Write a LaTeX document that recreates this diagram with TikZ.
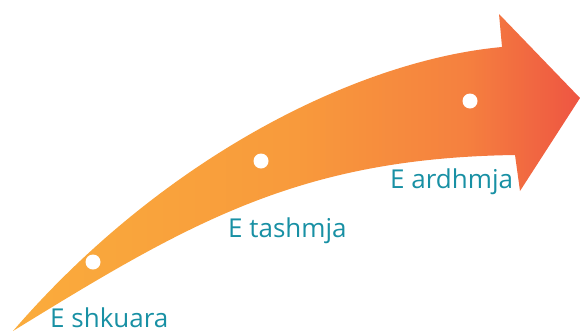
\documentclass[tikz,border=0pt]{standalone}
\usepackage{fontspec}
\setmainfont{Open Sans}
\usepackage{tikz}
\usetikzlibrary{positioning}
\definecolor{ArrowLight}{RGB}{250,172,60}
\definecolor{ArrowWarm}{RGB}{248,154,60}
\definecolor{ArrowMid}{RGB}{245,128,63}
\definecolor{ArrowDark}{RGB}{238,85,66}
\definecolor{LabelTeal}{RGB}{24,144,164}
\pgfdeclarehorizontalshading{arrowshade}{100bp}{color(0bp)=(ArrowLight); color(25bp)=(ArrowLight); color(50bp)=(ArrowWarm); color(65bp)=(ArrowMid); color(75bp)=(ArrowDark); color(100bp)=(ArrowDark)}
\tikzset{
  timearrow/.style={shading=arrowshade, draw=none},
  stagedot/.style={circle, fill=white, minimum size=15pt, inner sep=0pt},
  stagelabel/.style={anchor=base west, inner sep=0pt, text=LabelTeal,
    font=\fontsize{26}{30}\selectfont}
}

\begin{document}
\begin{tikzpicture}[x=1pt, y=-1pt]
  \useasboundingbox (0,0) rectangle (580,333);
  % Curved arrow: upper edge, head, lower edge back to the tail
  \shade[timearrow] (13,331)
    .. controls (165,155) and (360,60) .. (502,47)
    -- (499,14) -- (580,98) -- (520,191) -- (515,155)
    .. controls (300,158) and (190,222) .. (13,331) -- cycle;

  % Stages along the arrow
  \node[stagedot] (past) at (93,262) {};
  \node[stagedot] (present) at (261,161) {};
  \node[stagedot] (future) at (470,101) {};

  \node[stagelabel] (pastlabel) at (50,327) {E shkuara};
  \node[stagelabel] (presentlabel) at (228,237) {E tashmja};
  \node[stagelabel] (futurelabel) at (390,188) {E ardhmja};
\end{tikzpicture}
\end{document}
